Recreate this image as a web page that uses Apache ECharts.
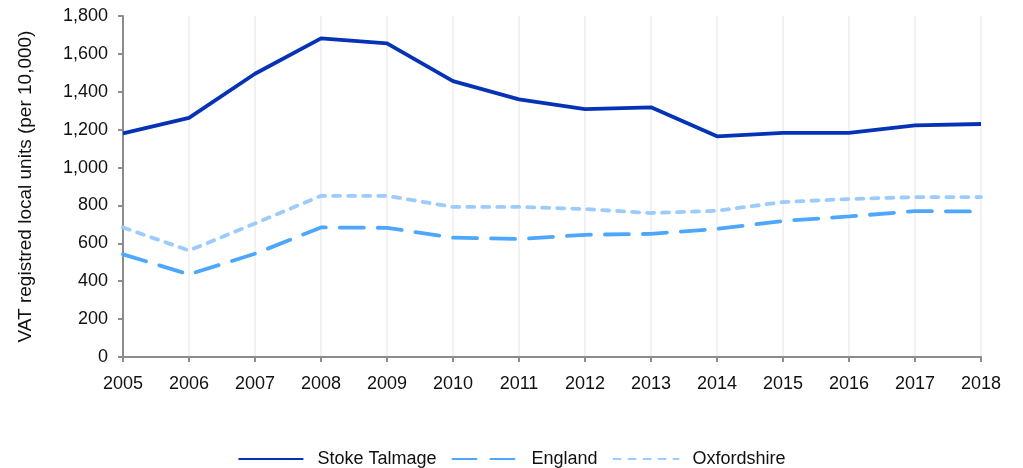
<!DOCTYPE html>
<html>
<head>
<meta charset="utf-8">
<script src="https://cdn.jsdelivr.net/npm/echarts@6/dist/echarts.min.js"></script>
<style>html,body{margin:0;padding:0;background:#fff}#c{width:1023px;height:468px}</style>
</head>
<body>
<div id="c"></div>
<script>
const years = ['2005','2006','2007','2008','2009','2010','2011','2012','2013','2014','2015','2016','2017','2018'];
const stokeTalmage = [1180,1262,1495,1682,1655,1456,1360,1308,1318,1165,1183,1183,1223,1230];
const england = [542,436,545,684,682,630,623,645,650,676,718,742,770,768];
const oxfordshire = [684,562,705,851,851,792,792,781,760,772,818,834,844,844];
const yTicks = {min:0, max:1800, interval:200};

const font = 'Liberation Sans, Arial, sans-serif';
const chart = echarts.init(document.getElementById('c'), null, {renderer:'canvas'});
chart.setOption({
  animation:false,
  grid:{left:123, right:42, top:16, bottom:111},
  legend:{
    top:445, left:'center', itemWidth:65, itemHeight:12, itemGap:15,
    itemStyle:{opacity:0},
    textStyle:{fontFamily:font, fontSize:18, color:'#111', padding:[0,0,0,9]},
    data:['Stoke Talmage','England','Oxfordshire']
  },
  xAxis:{
    type:'category', data:years, boundaryGap:false,
    axisLine:{lineStyle:{color:'#8c8c8c', width:2}},
    axisTick:{show:true, length:5, lineStyle:{color:'#8c8c8c', width:2}},
    axisLabel:{fontFamily:font, fontSize:18, color:'#111', margin:18},
    splitLine:{show:true, lineStyle:{color:'#eeeeee', width:1.5}}
  },
  yAxis:{
    type:'value', min:yTicks.min, max:yTicks.max, interval:yTicks.interval,
    name:'VAT registred local units (per 10,000)', nameLocation:'middle', nameGap:88,
    nameTextStyle:{fontFamily:font, fontSize:19, color:'#111'},
    axisLine:{show:true, lineStyle:{color:'#8c8c8c', width:2}},
    axisTick:{show:true, length:5, lineStyle:{color:'#8c8c8c', width:2}},
    axisLabel:{fontFamily:font, fontSize:18, color:'#111', margin:15,
      formatter:v=>v.toLocaleString('en-US')},
    splitLine:{show:false}
  },
  series:[
    {name:'Stoke Talmage', type:'line', data:stokeTalmage, symbol:'none', color:'#0633b5',
     lineStyle:{color:'#0633b5', width:3.8}},
    {name:'England', type:'line', data:england, symbol:'none', color:'#4da7fd',
     lineStyle:{color:'#4da7fd', width:3.8, type:[24,14], cap:'round'}},
    {name:'Oxfordshire', type:'line', data:oxfordshire, symbol:'none', color:'#9ccbfd',
     lineStyle:{color:'#9ccbfd', width:3.8, type:[7,8], cap:'round'}}
  ]
});
</script>
</body>
</html>
